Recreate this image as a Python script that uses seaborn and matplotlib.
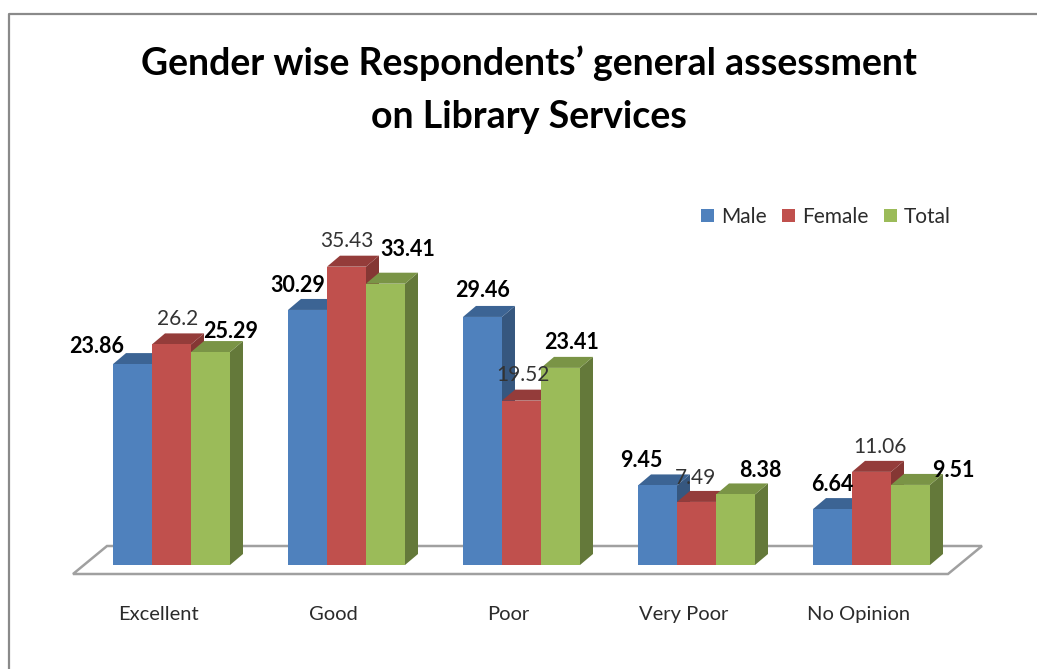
import matplotlib
matplotlib.use("Agg")
import matplotlib.pyplot as plt
from matplotlib.lines import Line2D
from matplotlib.patches import Polygon
from matplotlib.transforms import Affine2D, ScaledTranslation
import pandas as pd
import seaborn as sns

categories = ["Excellent", "Good", "Poor", "Very Poor", "No Opinion"]
male = [23.86, 30.29, 29.46, 9.45, 6.64]
female = [26.2, 35.43, 19.52, 7.49, 11.06]
total = [25.29, 33.41, 23.41, 8.38, 9.51]
series_names = ["Male", "Female", "Total"]
title_text = "Gender wise Respondents\u2019 general assessment\non Library Services"

W, H = 1037, 669
FONT = "Lato"
colors = ["#4F81BD", "#C0504D", "#9BBB59"]
top_colors = ["#3C6494", "#943C3A", "#7A9446"]
side_colors = ["#36577F", "#853734", "#64793A"]
PX_X, PX_Y = 175.0, 8.42      # pixels per category / per value unit
CX0, BASE, FLOOR_FRONT = 171.5, 565.0, 574.0
DEPTH_X, DEPTH_Y = 13.0, 11.0
# nudges of each value label from its bar top, pixels (x right, y up)
offsets = {
    "Male": [(-36, 18), (-10, 24), (0, 26), (-16, 25), (0, 25)],
    "Female": [(6, 25), (0, 26), (1, 26), (-1, 24), (8, 25)],
    "Total": [(20, 21), (22, 34), (11, 25), (25, 24), (43, 14)],
}
bold = {"Male": True, "Female": False, "Total": True}

df = pd.DataFrame({"category": categories, "Male": male, "Female": female, "Total": total})
long_df = df.melt(id_vars="category", var_name="series", value_name="value")

sns.set_theme(style="white")
plt.rcParams["font.family"] = [FONT, "DejaVu Sans"]
fig = plt.figure(figsize=(W / 100, H / 100), dpi=100, facecolor="white")
ax = fig.add_axes([0, (H - FLOOR_FRONT) / H, 1, FLOOR_FRONT / H])
sns.barplot(data=long_df, x="category", y="value", hue="series", hue_order=series_names,
            palette=colors, width=117 / PX_X, gap=0, saturation=1, ax=ax, zorder=10,
            edgecolor="none", linewidth=0)
ax.set_xlim(-CX0 / PX_X, (W - CX0) / PX_X)
ax.set_ylim(-(FLOOR_FRONT - BASE) / PX_Y, BASE / PX_Y)
ax.patch.set_alpha(0)
sns.despine(ax=ax, left=True, bottom=True)
ax.set_xlabel("")
ax.set_ylabel("")
ax.set_yticks([])
ax.tick_params(axis="x", length=0, pad=23, labelsize=14.5, labelcolor="#2b2b2b")
shift = ScaledTranslation(-13 / 100, 0, fig.dpi_scale_trans)
for lab in ax.get_xticklabels():
    lab.set_transform(lab.get_transform() + shift)

dx, dy = DEPTH_X / PX_X, DEPTH_Y / PX_Y
for s, cont in enumerate(ax.containers):
    name = series_names[s]
    for c, bar in enumerate(cont):
        x0, w, h = bar.get_x(), bar.get_width(), bar.get_height()
        ax.add_patch(Polygon([(x0 + w, 0), (x0 + w + dx, dy), (x0 + w + dx, h + dy), (x0 + w, h)],
                             facecolor=side_colors[s], edgecolor="none", zorder=2 + s))
        ax.add_patch(Polygon([(x0, h), (x0 + dx, h + dy), (x0 + w + dx, h + dy), (x0 + w, h)],
                             facecolor=top_colors[s], edgecolor="none", zorder=2 + s))
        ox, oy = offsets[name][c]
        ax.annotate(f"{h:g}", (x0 + w / 2, h), xytext=(ox, oy), textcoords="offset pixels",
                    ha="center", va="center", fontsize=15.5 if bold[name] else 15, zorder=20,
                    fontweight="bold" if bold[name] else "normal",
                    color="#000000" if bold[name] else "#333333")

# frame and floor, in figure pixels (y down)
px = Affine2D().scale(1 / W, -1 / H).translate(0, 1) + fig.transFigure
fig.add_artist(Line2D([8.5, 8.5, W], [H, 13.5, 13.5], color="#8a8a8a", lw=1.6, transform=px))
fig.add_artist(Polygon([(73, 574), (107, 546), (982, 546), (948, 574)], closed=True, fill=False,
                       edgecolor="#a0a0a0", lw=1.8, transform=px, zorder=0))

leg = ax.legend(title=None, ncol=3, frameon=False, loc="center", fontsize=15,
                bbox_to_anchor=(826 / W, 1 - 217 / FLOOR_FRONT), handlelength=0.6,
                handleheight=0.6, handletextpad=0.33, columnspacing=0.77, labelcolor="#2b2b2b")
fig.text(529 / W, 1 - 89.5 / H, title_text, ha="center", va="center", fontsize=27,
         fontweight="bold", color="#000000", linespacing=1.67)
fig.savefig("out.png", dpi=100, facecolor="white")
